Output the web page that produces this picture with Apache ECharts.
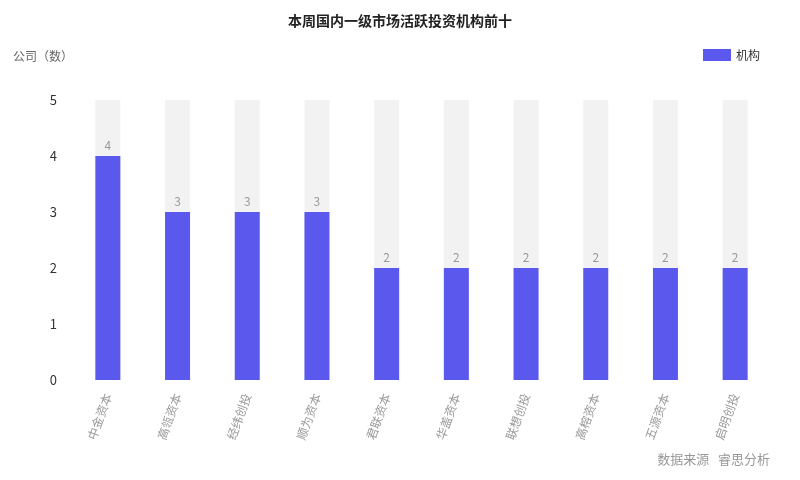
<!DOCTYPE html>
<html>
<head>
<meta charset="utf-8">
<script src="https://cdn.jsdelivr.net/npm/echarts@6/dist/echarts.min.js"></script>
<style>
  html, body { margin: 0; padding: 0; background: #fff; }
  #chart { width: 800px; height: 480px; }
</style>
</head>
<body>
<div id="chart"></div>
<script>
// categories and values
const institutions = ['中金资本', '高瓴资本', '经纬创投', '顺为资本', '君联资本', '华盖资本', '联想创投', '高榕资本', '五源资本', '启明创投'];
const counts = [4, 3, 3, 3, 2, 2, 2, 2, 2, 2];
const yTicks = [0, 1, 2, 3, 4, 5];

const chart = echarts.init(document.getElementById('chart'));

chart.setOption({
    backgroundColor: '#fff',
    textStyle: { fontFamily: '"Noto Sans CJK SC", "Noto Sans", sans-serif' },
    title: {
        text: '本周国内一级市场活跃投资机构前十',
        left: 'center',
        top: 9,
        textStyle: { fontSize: 14, fontWeight: 'bold', color: '#222' }
    },
    legend: {
        data: ['机构'],
        right: 35,
        top: 44,
        icon: 'rect',
        itemWidth: 28,
        itemHeight: 12,
        textStyle: { color: '#333', fontSize: 12 }
    },
    graphic: [{
        type: 'text',
        right: 30,
        top: 453,
        style: {
            text: '数据来源   睿思分析',
            fill: '#999',
            font: '13px "Noto Sans CJK SC", sans-serif'
        }
    }],
    grid: {
        left: 73,
        right: 30,
        top: 100,
        bottom: 100
    },
    xAxis: {
        type: 'category',
        data: institutions,
        axisLine: { show: false },
        axisTick: { show: false },
        axisLabel: {
            rotate: 70,
            color: '#999',
            fontSize: 12,
            margin: 14,
            interval: 0
        }
    },
    yAxis: {
        type: 'value',
        name: '公司（数）',
        nameLocation: 'end',
        nameGap: 38,
        nameTextStyle: { color: '#666', fontSize: 12, align: 'right', padding: [0, 0, 0, 0] },
        min: yTicks[0],
        max: yTicks[yTicks.length - 1],
        interval: 1,
        axisLine: { show: false },
        axisTick: { show: false },
        splitLine: { show: false },
        axisLabel: { color: '#333', fontSize: 13, margin: 16 }
    },
    series: [{
        name: '机构',
        type: 'bar',
        data: counts,
        barWidth: 25,
        showBackground: true,
        backgroundStyle: { color: '#f2f2f2' },
        itemStyle: { color: '#5b58ee' },
        label: {
            show: true,
            position: 'top',
            color: '#999',
            fontSize: 12
        }
    }]
});
</script>
</body>
</html>
